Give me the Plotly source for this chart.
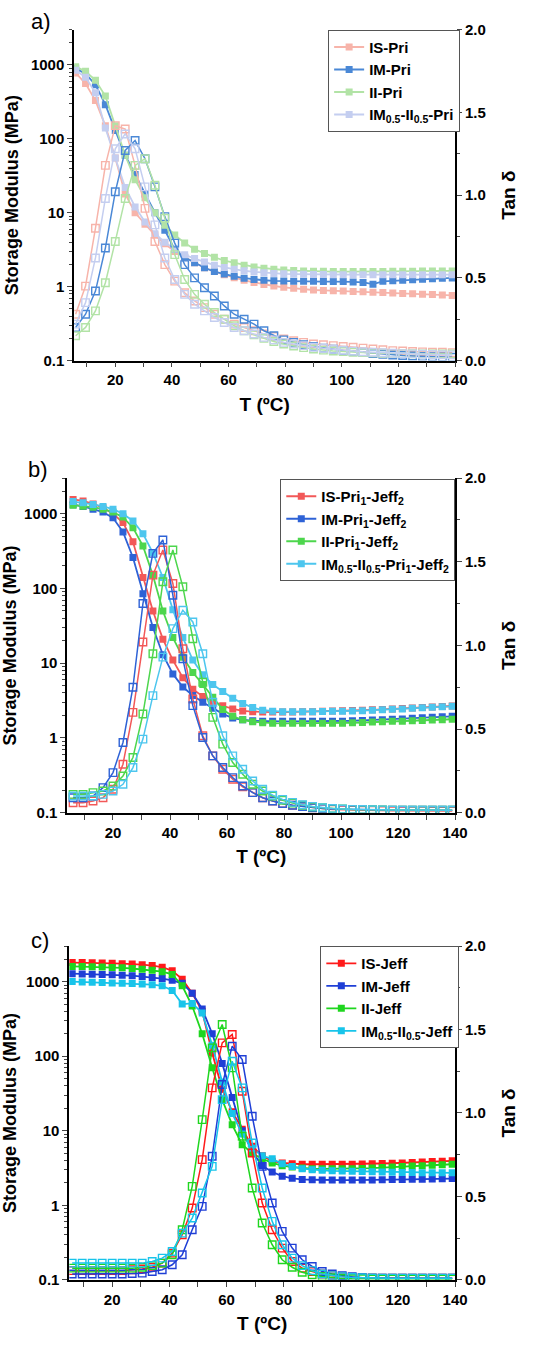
import plotly.graph_objects as go

# ---------------- data ----------------
T = [6, 9.5, 13, 16.5, 20, 23.5, 27, 30.5, 34, 37.5, 41, 44.5, 48, 51.5, 55, 58.5, 62, 65.5, 69, 72.5,
     76, 79.5, 83, 86.5, 90, 93.5, 97, 100.5, 104, 107.5, 111, 114.5, 118, 121.5, 125, 128.5, 132, 135.5, 139]

# panel a) storage modulus (MPa)
IS_Pri_E = [780, 560, 330, 150, 55, 18, 10, 7.0, 5.0, 3.8, 3.0, 2.5, 2.1, 1.8, 1.6, 1.45, 1.32, 1.22, 1.14, 1.07,
            1.02, 0.98, 0.95, 0.92, 0.90, 0.89, 0.88, 0.87, 0.86, 0.85, 0.84, 0.83, 0.82, 0.81, 0.80, 0.79, 0.78, 0.77, 0.76]
IM_Pri_E = [900, 760, 540, 290, 130, 60, 33, 18, 10, 5.8, 3.2, 2.5, 2.1, 1.8, 1.6, 1.48, 1.38, 1.3, 1.25, 1.22,
            1.2, 1.19, 1.18, 1.18, 1.18, 1.17, 1.17, 1.17, 1.16, 1.14, 1.08, 1.18, 1.2, 1.22, 1.24, 1.26, 1.28, 1.3, 1.31]
II_Pri_E = [950, 820, 620, 380, 150, 60, 28, 16, 10, 6.8, 5.0, 3.9, 3.2, 2.8, 2.5, 2.25, 2.1, 1.95, 1.85, 1.78,
            1.72, 1.68, 1.65, 1.63, 1.62, 1.61, 1.6, 1.6, 1.6, 1.6, 1.6, 1.6, 1.61, 1.62, 1.62, 1.63, 1.63, 1.63, 1.63]
IMII_Pri_E = [850, 680, 420, 140, 55, 22, 12, 7.5, 5.2, 4.0, 3.2, 2.7, 2.4, 2.15, 1.95, 1.82, 1.72, 1.64, 1.58, 1.54,
              1.51, 1.49, 1.48, 1.47, 1.46, 1.46, 1.45, 1.45, 1.45, 1.45, 1.45, 1.45, 1.45, 1.45, 1.45, 1.45, 1.45, 1.45, 1.45]
# panel a) tan delta
IS_Pri_tan = [0.28, 0.45, 0.80, 1.18, 1.42, 1.40, 1.18, 0.92, 0.72, 0.58, 0.48, 0.41, 0.36, 0.32, 0.28, 0.25, 0.22, 0.20, 0.18, 0.16,
              0.145, 0.13, 0.12, 0.11, 0.10, 0.095, 0.09, 0.085, 0.08, 0.075, 0.07, 0.065, 0.06, 0.058, 0.055, 0.052, 0.05, 0.05, 0.048]
IM_Pri_tan = [0.20, 0.28, 0.42, 0.68, 1.02, 1.27, 1.33, 1.22, 1.05, 0.87, 0.71, 0.58, 0.50, 0.44, 0.39, 0.33, 0.28, 0.25, 0.22, 0.18,
              0.15, 0.125, 0.11, 0.095, 0.085, 0.075, 0.068, 0.06, 0.055, 0.048, 0.042, 0.037, 0.033, 0.03, 0.027, 0.025, 0.023, 0.022, 0.02]
II_Pri_tan = [0.15, 0.20, 0.30, 0.47, 0.72, 0.98, 1.18, 1.22, 1.06, 0.86, 0.64, 0.49, 0.40, 0.34, 0.29, 0.25, 0.21, 0.18, 0.155, 0.135,
              0.115, 0.10, 0.088, 0.078, 0.07, 0.063, 0.058, 0.054, 0.05, 0.048, 0.046, 0.044, 0.043, 0.042, 0.041, 0.04, 0.04, 0.04, 0.04]
IMII_Pri_tan = [0.22, 0.35, 0.62, 0.98, 1.28, 1.37, 1.28, 1.05, 0.82, 0.62, 0.49, 0.40, 0.34, 0.30, 0.26, 0.23, 0.20, 0.18, 0.16, 0.14,
                0.125, 0.11, 0.10, 0.09, 0.08, 0.074, 0.068, 0.062, 0.057, 0.053, 0.05, 0.047, 0.044, 0.042, 0.04, 0.038, 0.036, 0.035, 0.034]

# panel b) storage modulus (MPa)
IS_PJ_E = [1550, 1480, 1350, 1200, 1000, 760, 420, 140, 50, 21, 11, 6.4, 4.5, 3.6, 3.1, 2.7, 2.45, 2.3, 2.25, 2.22,
           2.22, 2.22, 2.23, 2.24, 2.25, 2.27, 2.29, 2.31, 2.33, 2.35, 2.38, 2.41, 2.44, 2.48, 2.52, 2.56, 2.6, 2.64, 2.68]
IM_PJ_E = [1320, 1250, 1150, 1050, 880, 570, 260, 85, 30, 13, 7.2, 4.8, 3.7, 3.0, 2.5, 2.1, 1.85, 1.75, 1.7, 1.68,
           1.67, 1.67, 1.67, 1.67, 1.67, 1.67, 1.67, 1.68, 1.7, 1.72, 1.74, 1.76, 1.78, 1.8, 1.83, 1.86, 1.89, 1.92, 1.95]
II_PJ_E = [1300, 1260, 1220, 1150, 1050, 900, 650, 370, 150, 50, 22, 12, 7.5, 5.2, 3.5, 2.4, 1.95, 1.75, 1.65, 1.6,
           1.58, 1.57, 1.57, 1.57, 1.57, 1.57, 1.57, 1.58, 1.6, 1.61, 1.63, 1.65, 1.67, 1.68, 1.7, 1.72, 1.74, 1.76, 1.78]
IMII_PJ_E = [1450, 1400, 1330, 1250, 1150, 1000, 800, 540, 300, 140, 52, 22, 11, 7, 5.2, 4.2, 3.4, 2.9, 2.55, 2.35,
             2.28, 2.25, 2.25, 2.25, 2.25, 2.26, 2.27, 2.27, 2.3, 2.32, 2.35, 2.38, 2.42, 2.45, 2.5, 2.54, 2.58, 2.62, 2.65]
# panel b) tan delta
IS_PJ_tan = [0.06, 0.06, 0.07, 0.09, 0.14, 0.29, 0.60, 1.02, 1.42, 1.57, 1.37, 0.98, 0.68, 0.46, 0.34, 0.26, 0.2, 0.155, 0.12, 0.09,
             0.07, 0.055, 0.045, 0.037, 0.03, 0.025, 0.02, 0.018, 0.016, 0.015, 0.014, 0.013, 0.012, 0.012, 0.011, 0.011, 0.01, 0.01, 0.01]
IM_PJ_tan = [0.09, 0.09, 0.1, 0.15, 0.24, 0.42, 0.75, 1.25, 1.55, 1.63, 1.3, 0.92, 0.64, 0.45, 0.34, 0.27, 0.21, 0.16, 0.12, 0.09,
             0.07, 0.055, 0.045, 0.037, 0.03, 0.025, 0.022, 0.02, 0.019, 0.018, 0.017, 0.016, 0.016, 0.015, 0.015, 0.015, 0.015, 0.015, 0.015]
II_PJ_tan = [0.11, 0.11, 0.12, 0.13, 0.16, 0.22, 0.33, 0.59, 0.95, 1.38, 1.57, 1.35, 1.04, 0.78, 0.57, 0.41, 0.3, 0.23, 0.17, 0.13,
             0.1, 0.075, 0.058, 0.045, 0.036, 0.03, 0.025, 0.022, 0.02, 0.019, 0.018, 0.017, 0.016, 0.016, 0.015, 0.015, 0.015, 0.015, 0.015]
IMII_PJ_tan = [0.1, 0.1, 0.1, 0.11, 0.13, 0.17, 0.27, 0.44, 0.7, 0.93, 1.1, 1.21, 1.14, 0.95, 0.66, 0.46, 0.34, 0.26, 0.19, 0.14,
               0.105, 0.08, 0.062, 0.048, 0.038, 0.03, 0.025, 0.022, 0.02, 0.019, 0.018, 0.017, 0.016, 0.016, 0.015, 0.015, 0.015, 0.015, 0.015]

# panel c) storage modulus (MPa)
IS_J_E = [1800, 1800, 1790, 1780, 1760, 1740, 1720, 1690, 1640, 1560, 1400, 1080, 700, 400, 110, 36, 18, 10.5, 6.2, 4.6,
          3.9, 3.7, 3.6, 3.55, 3.55, 3.55, 3.55, 3.55, 3.56, 3.58, 3.6, 3.63, 3.66, 3.7, 3.74, 3.8, 3.85, 3.9, 3.95]
IM_J_E = [1280, 1270, 1260, 1250, 1240, 1220, 1200, 1170, 1140, 1100, 1040, 950, 700, 430, 200, 80, 28, 10, 5.2, 3.4,
          2.8, 2.45, 2.3, 2.22, 2.2, 2.18, 2.18, 2.18, 2.18, 2.18, 2.19, 2.2, 2.21, 2.22, 2.23, 2.24, 2.25, 2.27, 2.28]
II_J_E = [1600, 1590, 1580, 1570, 1550, 1530, 1500, 1460, 1420, 1360, 1250, 880, 470, 200, 70, 26, 12, 6.5, 5.0, 4.2,
          3.7, 3.4, 3.25, 3.15, 3.1, 3.08, 3.08, 3.08, 3.1, 3.12, 3.15, 3.2, 3.25, 3.3, 3.35, 3.4, 3.45, 3.5, 3.55]
IMII_J_E = [1000, 990, 980, 970, 960, 950, 940, 930, 910, 880, 760, 500, 510, 380, 140, 45, 17, 9, 5.8, 4.6,
            4.2, 3.6, 3.3, 3.1, 3.0, 2.95, 2.9, 2.88, 2.86, 2.84, 2.82, 2.8, 2.78, 2.76, 2.75, 2.74, 2.73, 2.72, 2.72]
# panel c) tan delta
IS_J_tan = [0.055, 0.055, 0.055, 0.055, 0.055, 0.055, 0.06, 0.065, 0.075, 0.1, 0.16, 0.27, 0.43, 0.72, 1.15, 1.42, 1.47, 1.13, 0.76, 0.46,
            0.3, 0.19, 0.11, 0.07, 0.05, 0.035, 0.025, 0.018, 0.014, 0.012, 0.011, 0.01, 0.01, 0.01, 0.01, 0.01, 0.01, 0.01, 0.01]
IM_J_tan = [0.035, 0.035, 0.035, 0.035, 0.035, 0.035, 0.038, 0.04, 0.05, 0.06, 0.09, 0.15, 0.3, 0.44, 0.74, 1.17, 1.4, 1.32, 0.98, 0.68,
            0.46, 0.29, 0.19, 0.12, 0.08, 0.05, 0.035, 0.025, 0.018, 0.012, 0.01, 0.01, 0.01, 0.01, 0.01, 0.01, 0.01, 0.01, 0.01]
II_J_tan = [0.07, 0.07, 0.07, 0.07, 0.07, 0.07, 0.07, 0.075, 0.085, 0.1, 0.15, 0.3, 0.56, 0.96, 1.39, 1.53, 1.27, 0.86, 0.55, 0.34,
            0.21, 0.12, 0.075, 0.045, 0.03, 0.02, 0.012, 0.008, 0.006, 0.006, 0.005, 0.005, 0.005, 0.005, 0.005, 0.005, 0.005, 0.005, 0.005]
IMII_J_tan = [0.1, 0.1, 0.1, 0.1, 0.1, 0.1, 0.1, 0.1, 0.11, 0.13, 0.17, 0.28, 0.37, 0.52, 0.68, 1.08, 1.31, 1.15, 0.82, 0.55,
              0.35, 0.21, 0.13, 0.085, 0.055, 0.035, 0.025, 0.018, 0.014, 0.012, 0.011, 0.01, 0.01, 0.01, 0.01, 0.01, 0.01, 0.01, 0.01]

names_a = ["IS-Pri", "IM-Pri", "II-Pri", "IM<sub>0.5</sub>-II<sub>0.5</sub>-Pri"]
names_b = ["IS-Pri<sub>1</sub>-Jeff<sub>2</sub>", "IM-Pri<sub>1</sub>-Jeff<sub>2</sub>",
           "II-Pri<sub>1</sub>-Jeff<sub>2</sub>", "IM<sub>0.5</sub>-II<sub>0.5</sub>-Pri<sub>1</sub>-Jeff<sub>2</sub>"]
names_c = ["IS-Jeff", "IM-Jeff", "II-Jeff", "IM<sub>0.5</sub>-II<sub>0.5</sub>-Jeff"]

colors_a = ["#F7B4AA", "#4A88D6", "#B2E3A6", "#C4CEF0"]
colors_b = ["#F25858", "#2E62D6", "#4DD64D", "#4DC6EE"]
colors_c = ["#FF1A1A", "#1F3FD6", "#1FD61F", "#18C4EA"]

panels = [
    dict(E=[IS_Pri_E, IM_Pri_E, II_Pri_E, IMII_Pri_E], tan=[IS_Pri_tan, IM_Pri_tan, II_Pri_tan, IMII_Pri_tan],
         names=names_a, colors=colors_a, label="a)"),
    dict(E=[IS_PJ_E, IM_PJ_E, II_PJ_E, IMII_PJ_E], tan=[IS_PJ_tan, IM_PJ_tan, II_PJ_tan, IMII_PJ_tan],
         names=names_b, colors=colors_b, label="b)"),
    dict(E=[IS_J_E, IM_J_E, II_J_E, IMII_J_E], tan=[IS_J_tan, IM_J_tan, II_J_tan, IMII_J_tan],
         names=names_c, colors=colors_c, label="c)"),
]

# ---------------- layout geometry (pixels of a 555 x 1351 page) ----------------
W, H = 555, 1351
geom = [
    dict(x0=76, x1=466, top=21, bot=356, xr=[5.5, 140], leg=(336, 21), lab=(42, 13)),
    dict(x0=69, x1=466, top=475, bot=814, xr=[4, 140], leg=(287, 476), lab=(39, 466)),
    dict(x0=71, x1=466, top=949, bot=1287, xr=[5, 140], leg=(328, 949), lab=(41, 943)),
]

FONT = "Liberation Sans, Arial, sans-serif"
fig = go.Figure()
layout = dict(width=W, height=H, autosize=False, margin=dict(l=0, r=0, t=0, b=0),
              paper_bgcolor="white", plot_bgcolor="white", font=dict(family=FONT, color="black"),
              annotations=[])

for i, (p, g) in enumerate(zip(panels, geom)):
    xid = "x" if i == 0 else f"x{i + 1}"
    yl = "y" if i == 0 else f"y{2 * i + 1}"
    yr = f"y{2 * i + 2}"
    leg = "legend" if i == 0 else f"legend{i + 1}"
    for k in range(4):
        fig.add_trace(go.Scatter(x=T, y=p["E"][k], name=p["names"][k], xaxis=xid, yaxis=yl, legend=leg,
                                 mode="lines+markers", line=dict(color=p["colors"][k], width=1.8),
                                 marker=dict(symbol="square", size=7, color=p["colors"][k])))
    for k in range(4):
        fig.add_trace(go.Scatter(x=T, y=p["tan"][k], name=p["names"][k] + " tan δ", xaxis=xid, yaxis=yr,
                                 showlegend=False, mode="lines+markers",
                                 line=dict(color=p["colors"][k], width=1.5),
                                 marker=dict(symbol="square-open", size=7.5, color=p["colors"][k],
                                             line=dict(width=1.4))))
    xdom = [g["x0"] / W, g["x1"] / W]
    ydom = [1 - g["bot"] / H, 1 - g["top"] / H]
    axline = dict(showline=True, linecolor="black", linewidth=1.8, showgrid=False, zeroline=False)
    tickf = dict(family=FONT, size=15, weight="bold", color="black")
    titf = dict(family=FONT, size=18, weight="bold", color="black")
    layout["xaxis" if i == 0 else f"xaxis{i + 1}"] = dict(
        domain=xdom, anchor=yl, range=g["xr"], tick0=0, dtick=20, ticks="outside", ticklen=5, tickwidth=1.4,
        minor=dict(dtick=10, tick0=0, ticks="outside", ticklen=5, tickwidth=1.2),
        tickfont=tickf, title=dict(text="T (ºC)", font=dict(titf, size=19), standoff=10), **axline)
    layout[f"xaxis{i + 4}"] = dict(
        overlaying=xid, anchor=yl, side="top", range=g["xr"], tick0=0, dtick=20, ticks="inside", ticklen=5,
        tickwidth=1.4, minor=dict(dtick=10, tick0=0, ticks="inside", ticklen=5, tickwidth=1.2),
        showticklabels=False, **axline)
    layout["yaxis" if i == 0 else f"yaxis{2 * i + 1}"] = dict(
        domain=ydom, anchor=xid, type="log", range=[-1, 3.477], tickmode="array",
        tickvals=[0.1, 1, 10, 100, 1000], ticktext=["0.1", "1", "10", "100", "1000"],
        ticks="outside", ticklen=5, tickwidth=1.4,
        minor=dict(ticks="outside", ticklen=3, tickwidth=1, dtick="D1"),
        tickfont=tickf, title=dict(text="Storage Modulus (MPa)", font=titf, standoff=8), **axline)
    layout[f"yaxis{2 * i + 2}"] = dict(
        overlaying=yl, anchor=xid, side="right", range=[0, 2], tick0=0, dtick=0.5, tickformat=".1f",
        ticks="outside", ticklen=5, tickwidth=1.4,
        minor=dict(dtick=0.25, tick0=0, ticks="outside", ticklen=3, tickwidth=1),
        tickfont=tickf, title=dict(text="Tan δ", font=dict(titf, size=19), standoff=17), **axline)
    layout[leg] = dict(x=g["leg"][0] / W, y=1 - g["leg"][1] / H, xanchor="left", yanchor="top",
                       bgcolor="white", bordercolor="#555555", borderwidth=1,
                       font=dict(family=FONT, size=15, weight="bold", color="black"),
                       tracegroupgap=0, itemwidth=30)
    layout["annotations"].append(dict(text=p["label"], x=g["lab"][0] / W, y=1 - g["lab"][1] / H,
                                      xref="paper", yref="paper", showarrow=False,
                                      font=dict(family=FONT, size=22, color="black"),
                                      xanchor="center", yanchor="middle"))

fig.update_layout(**layout)
fig.write_html("out.html")
